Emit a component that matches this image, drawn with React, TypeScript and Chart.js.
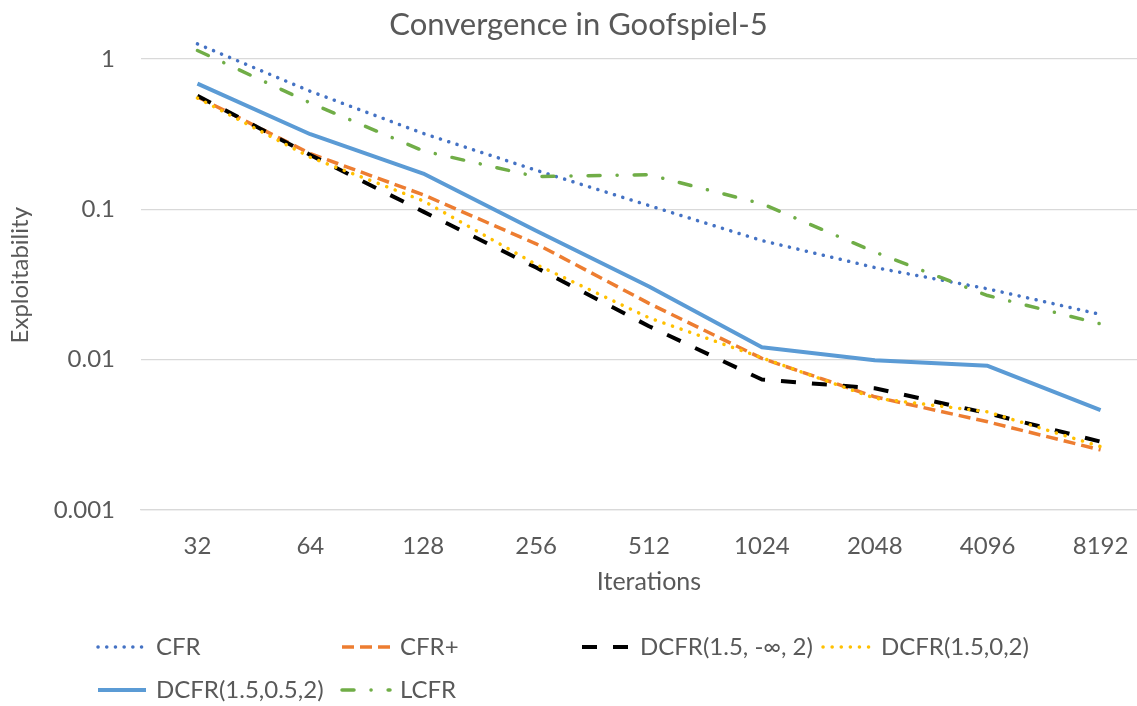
import React, { useEffect, useRef } from "react";
import { Chart, registerables } from "chart.js";

Chart.register(...registerables);

const TITLE = "Convergence in Goofspiel-5";
const X_TITLE = "Iterations";
const Y_TITLE = "Exploitability";

const iterations = ["32", "64", "128", "256", "512", "1024", "2048", "4096", "8192"];
const yTickValues = [0.001, 0.01, 0.1, 1];

const seriesNames = ["CFR", "CFR+", "DCFR(1.5, -∞, 2)", "DCFR(1.5,0,2)", "DCFR(1.5,0.5,2)", "LCFR"];

const cfr = [1.26, 0.61, 0.32, 0.182, 0.106, 0.062, 0.041, 0.0296, 0.02];
const cfrPlus = [0.56, 0.235, 0.125, 0.059, 0.0237, 0.0102, 0.00566, 0.00386, 0.00251];
const dcfrNegInf = [0.57, 0.23, 0.0966, 0.041, 0.0167, 0.00738, 0.00645, 0.0044, 0.00285];
const dcfrZero = [0.55, 0.222, 0.114, 0.043, 0.019, 0.0103, 0.00554, 0.0045, 0.00264];
const dcfrHalf = [0.686, 0.316, 0.173, 0.072, 0.0307, 0.0121, 0.0099, 0.0091, 0.00462];
const lcfr = [1.14, 0.51, 0.245, 0.165, 0.17, 0.109, 0.052, 0.0267, 0.0173];

const FONT = "Lato, 'Noto Sans', sans-serif";
const TEXT = "#595959";
const GRID = "#d9d9d9";

const legendPlugin = {
  id: "excelLegend",
  afterDraw(chart: any) {
    const ctx = chart.ctx;
    const cols = [98, 342, 582, 823];
    const rows = [647, 690];
    chart.data.datasets.forEach((ds: any, i: number) => {
      const x = cols[i % 4];
      const y = rows[Math.floor(i / 4)];
      ctx.save();
      ctx.strokeStyle = ds.borderColor;
      ctx.lineWidth = ds.borderWidth;
      ctx.lineCap = ds.borderCapStyle || "butt";
      ctx.setLineDash(ds.borderDash || []);
      ctx.beginPath();
      ctx.moveTo(x, y);
      ctx.lineTo(x + 48, y);
      ctx.stroke();
      ctx.setLineDash([]);
      ctx.fillStyle = TEXT;
      ctx.font = `24px ${FONT}`;
      ctx.textBaseline = "middle";
      ctx.textAlign = "left";
      ctx.fillText(ds.label, x + 58, y);
      ctx.restore();
    });
  },
};

export default function App() {
  const ref = useRef<HTMLCanvasElement>(null);

  useEffect(() => {
    const styles = [
      { color: "#4472C4", width: 3.5, dash: [0.1, 8.6], cap: "round" },
      { color: "#ED7D31", width: 3.5, dash: [12, 6], cap: "butt" },
      { color: "#000000", width: 4, dash: [15, 16], cap: "butt" },
      { color: "#FFC000", width: 3.5, dash: [0.1, 9], cap: "round" },
      { color: "#5B9BD5", width: 4, dash: [], cap: "butt" },
      { color: "#70AD47", width: 3.5, dash: [12, 17, 0.1, 17], cap: "round" },
    ];
    const values = [cfr, cfrPlus, dcfrNegInf, dcfrZero, dcfrHalf, lcfr];

    const chart = new Chart(ref.current as HTMLCanvasElement, {
      type: "line",
      data: {
        labels: iterations,
        datasets: values.map((v, i) => ({
          label: seriesNames[i],
          data: v,
          borderColor: styles[i].color,
          backgroundColor: styles[i].color,
          borderWidth: styles[i].width,
          borderDash: styles[i].dash,
          borderCapStyle: styles[i].cap as any,
          borderJoinStyle: "round" as any,
          pointRadius: 0,
          fill: false,
          tension: 0,
          order: values.length - i,
        })),
      },
      options: {
        responsive: false,
        animation: false,
        devicePixelRatio: 1,
        layout: { padding: 0 },
        plugins: {
          legend: { display: false },
          tooltip: { enabled: false },
          title: {
            display: true,
            text: TITLE,
            color: TEXT,
            font: { family: FONT, size: 31, weight: "normal", lineHeight: 1 },
            padding: { top: 7, bottom: 0 },
          },
        },
        scales: {
          x: {
            type: "category",
            offset: true,
            grid: { display: false, drawTicks: false },
            border: { display: true, color: GRID, width: 1.3 },
            ticks: {
              color: TEXT,
              font: { family: FONT, size: 24 },
              padding: 22,
              maxRotation: 0,
              autoSkip: false,
            },
            title: {
              display: true,
              text: X_TITLE,
              color: TEXT,
              font: { family: FONT, size: 25 },
              padding: { top: 0, bottom: 109 },
            },
            afterFit: (scale: any) => {
              scale.height = 196;
            },
          },
          y: {
            type: "logarithmic",
            min: 0.001,
            max: 1.33,
            grid: { color: GRID, lineWidth: 1.3, drawTicks: false },
            border: { display: false },
            ticks: {
              color: TEXT,
              font: { family: FONT, size: 24 },
              padding: 26,
              callback: (v: any) => String(v),
            },
            afterBuildTicks: (scale: any) => {
              scale.ticks = yTickValues.map((v) => ({ value: v }));
            },
            title: {
              display: true,
              text: Y_TITLE,
              color: TEXT,
              font: { family: FONT, size: 24 },
              padding: { top: 6, bottom: 0 },
            },
            afterFit: (scale: any) => {
              scale.width = 141;
            },
          },
        },
      },
      plugins: [legendPlugin],
    });
    return () => chart.destroy();
  }, []);

  return (
    <div
      style={{
        position: "fixed",
        left: 0,
        top: 0,
        width: 1137,
        height: 706,
        overflow: "hidden",
        background: "#ffffff",
      }}
    >
      <canvas ref={ref} width={1157} height={706} style={{ display: "block", width: 1157, height: 706 }} />
    </div>
  );
}
